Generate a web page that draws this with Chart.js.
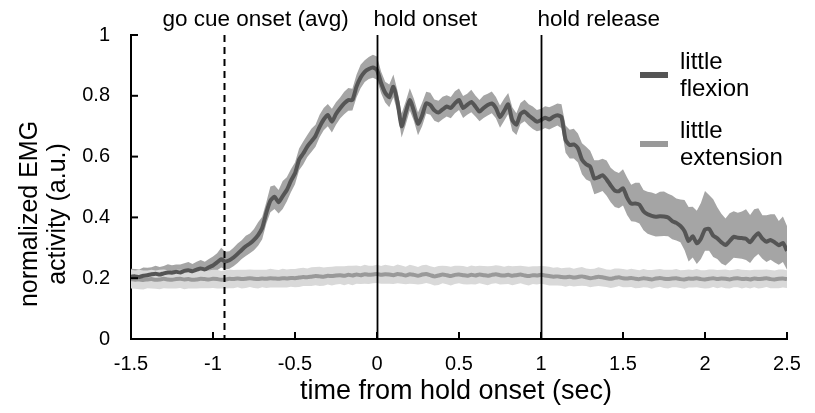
<!DOCTYPE html>
<html>
<head>
<meta charset="utf-8">
<script src="https://cdn.jsdelivr.net/npm/chart.js@4.4.1/dist/chart.umd.min.js"></script>
<style>
  html, body { margin: 0; padding: 0; background: #fff; }
  #wrap { width: 815px; height: 413px; position: relative; }
</style>
</head>
<body>
<div id="wrap"><canvas id="emg"></canvas></div>
<script>
// sample grid: -1.5 s to 2.5 s, every 25 ms
const tStart = -1.5;
const tStep = 0.025;

// little flexion, mean trace
const flexMean = [
  0.205,0.206,0.204,0.208,0.210,0.213,0.215,0.212,0.216,0.219,0.218,0.221,0.219,0.224,0.226,0.223,0.228,0.232,0.229,0.236,0.242,
  0.252,0.262,0.255,0.259,0.268,0.280,0.293,0.305,0.314,0.326,0.342,0.365,0.415,0.455,0.468,0.450,0.470,0.490,0.520,0.545,
  0.590,0.610,0.633,0.650,0.668,0.698,0.722,0.737,0.715,0.740,0.759,0.775,0.786,0.786,0.830,0.860,0.879,0.888,0.893,0.885,
  0.842,0.810,0.795,0.830,0.780,0.700,0.745,0.786,0.750,0.708,0.735,0.775,0.770,0.752,0.745,0.755,0.765,0.760,0.775,0.786,
  0.760,0.770,0.780,0.765,0.748,0.760,0.770,0.775,0.760,0.730,0.750,0.772,0.720,0.705,0.740,0.748,0.735,0.725,0.715,0.720,
  0.728,0.722,0.731,0.736,0.730,0.655,0.638,0.640,0.628,0.590,0.575,0.567,0.528,0.532,0.539,0.525,0.505,0.488,0.486,0.496,
  0.465,0.445,0.446,0.442,0.420,0.410,0.405,0.402,0.404,0.403,0.400,0.388,0.382,0.372,0.355,0.322,0.338,0.315,0.330,0.360,
  0.362,0.340,0.331,0.318,0.309,0.322,0.336,0.333,0.332,0.330,0.318,0.335,0.348,0.330,0.320,0.326,0.318,0.308,0.316,0.290
];
// band above / below flexion mean
const flexErrHi = [
  0.026,0.024,0.025,0.027,0.024,0.023,0.026,0.025,0.024,0.027,0.025,0.024,0.026,0.025,0.027,0.024,0.026,0.028,0.025,0.027,0.029,
  0.030,0.038,0.032,0.030,0.032,0.034,0.032,0.035,0.033,0.036,0.042,0.037,0.035,0.047,0.038,0.040,0.050,0.042,0.038,0.036,
  0.037,0.040,0.038,0.042,0.037,0.040,0.038,0.036,0.042,0.039,0.035,0.038,0.040,0.037,0.039,0.042,0.038,0.040,0.042,0.044,
  0.038,0.036,0.042,0.040,0.037,0.042,0.036,0.039,0.040,0.037,0.042,0.038,0.040,0.036,0.039,0.042,0.037,0.036,0.040,0.038,
  0.039,0.037,0.040,0.036,0.038,0.041,0.037,0.039,0.036,0.038,0.040,0.037,0.042,0.038,0.036,0.039,0.037,0.040,0.038,0.037,
  0.038,0.040,0.037,0.039,0.042,0.047,0.050,0.052,0.048,0.054,0.057,0.052,0.060,0.056,0.054,0.062,0.058,0.064,0.060,0.062,
  0.066,0.062,0.068,0.072,0.070,0.074,0.077,0.075,0.080,0.082,0.078,0.084,0.080,0.087,0.102,0.112,0.097,0.107,0.117,0.127,
  0.112,0.120,0.102,0.094,0.087,0.092,0.084,0.082,0.087,0.097,0.090,0.092,0.082,0.077,0.087,0.084,0.092,0.080,0.087,0.082
];
const flexErrLo = [
  0.022,0.023,0.022,0.024,0.023,0.022,0.024,0.023,0.022,0.024,0.023,0.022,0.024,0.023,0.022,0.024,0.023,0.024,0.023,0.024,0.025,
  0.026,0.027,0.026,0.028,0.029,0.030,0.030,0.032,0.032,0.034,0.035,0.037,0.036,0.038,0.040,0.037,0.042,0.038,0.037,0.036,
  0.035,0.036,0.034,0.035,0.036,0.034,0.035,0.037,0.036,0.035,0.034,0.036,0.035,0.034,0.036,0.035,0.034,0.033,0.034,0.032,
  0.034,0.032,0.033,0.035,0.034,0.037,0.040,0.034,0.033,0.038,0.035,0.033,0.032,0.034,0.033,0.032,0.033,0.034,0.032,0.033,
  0.033,0.032,0.034,0.033,0.032,0.033,0.035,0.032,0.034,0.035,0.033,0.032,0.036,0.034,0.033,0.032,0.033,0.034,0.032,0.033,
  0.034,0.033,0.035,0.034,0.037,0.042,0.044,0.046,0.047,0.048,0.050,0.049,0.052,0.051,0.052,0.054,0.055,0.054,0.056,0.057,
  0.057,0.058,0.060,0.062,0.062,0.064,0.064,0.065,0.066,0.064,0.062,0.060,0.058,0.054,0.062,0.067,0.070,0.068,0.067,0.070,
  0.072,0.070,0.068,0.070,0.067,0.068,0.069,0.067,0.068,0.070,0.068,0.067,0.068,0.066,0.067,0.065,0.066,0.064,0.063,0.062
];

// little extension, mean trace and band half-width
const extMean = [
  0.197,0.195,0.196,0.194,0.196,0.197,0.195,0.196,0.198,0.196,0.195,0.197,0.198,0.196,0.197,0.195,0.196,0.198,0.197,0.196,0.198,
  0.197,0.195,0.196,0.198,0.197,0.199,0.197,0.198,0.200,0.198,0.197,0.199,0.198,0.200,0.199,0.198,0.200,0.199,0.201,0.200,
  0.202,0.204,0.203,0.205,0.207,0.206,0.205,0.208,0.207,0.209,0.210,0.208,0.211,0.209,0.212,0.210,0.213,0.211,0.212,0.214,
  0.211,0.213,0.212,0.210,0.214,0.212,0.209,0.213,0.211,0.208,0.212,0.214,0.210,0.206,0.209,0.212,0.210,0.207,0.211,0.212,
  0.210,0.208,0.211,0.209,0.212,0.210,0.208,0.211,0.213,0.210,0.209,0.211,0.208,0.210,0.212,0.209,0.207,0.210,0.209,0.211,
  0.209,0.207,0.205,0.206,0.204,0.203,0.205,0.202,0.204,0.206,0.203,0.200,0.202,0.205,0.203,0.200,0.198,0.201,0.203,0.200,
  0.199,0.201,0.198,0.197,0.200,0.198,0.196,0.199,0.201,0.198,0.197,0.199,0.200,0.197,0.196,0.199,0.198,0.200,0.197,0.196,
  0.198,0.200,0.197,0.199,0.198,0.196,0.199,0.200,0.197,0.198,0.196,0.199,0.197,0.198,0.200,0.197,0.196,0.198,0.199,0.197
];
const extErr = [
  0.031,0.030,0.032,0.031,0.029,0.031,0.030,0.032,0.031,0.030,0.029,0.031,0.030,0.032,0.031,0.029,0.030,0.031,0.030,0.029,0.030,
  0.031,0.029,0.030,0.031,0.030,0.029,0.031,0.030,0.029,0.030,0.031,0.029,0.030,0.031,0.030,0.029,0.031,0.030,0.029,0.030,
  0.031,0.030,0.029,0.031,0.030,0.032,0.030,0.029,0.031,0.030,0.029,0.031,0.030,0.032,0.030,0.029,0.031,0.030,0.029,0.030,
  0.029,0.031,0.030,0.029,0.031,0.030,0.029,0.031,0.030,0.029,0.031,0.030,0.029,0.030,0.031,0.029,0.030,0.031,0.030,0.029,
  0.030,0.029,0.031,0.030,0.029,0.030,0.031,0.029,0.030,0.031,0.029,0.030,0.031,0.030,0.029,0.030,0.031,0.029,0.030,0.029,
  0.030,0.031,0.029,0.030,0.029,0.031,0.030,0.029,0.030,0.031,0.029,0.030,0.029,0.031,0.030,0.029,0.030,0.031,0.029,0.030,
  0.029,0.030,0.031,0.029,0.030,0.029,0.031,0.030,0.029,0.030,0.031,0.029,0.030,0.029,0.031,0.030,0.029,0.030,0.029,0.030,
  0.031,0.029,0.030,0.029,0.031,0.030,0.029,0.030,0.031,0.029,0.030,0.029,0.031,0.030,0.029,0.030,0.029,0.031,0.030,0.029
];

// event markers
const eventTimes  = [-0.93, 0, 1];
const eventLabels = ['go cue onset (avg)', 'hold onset', 'hold release'];
const eventDashed = [true, false, false];

// axis ticks
const xTicks = [-1.5, -1, -0.5, 0, 0.5, 1, 1.5, 2, 2.5];
const yTicks = [0, 0.2, 0.4, 0.6, 0.8, 1];

const seriesNames = [['little', 'flexion'], ['little', 'extension']];

const FONT = '"Liberation Sans", Arial, Helvetica, sans-serif';
const C = {
  flexLine: '#555555',
  flexBand: '#a5a5a5',
  extLine:  '#999999',
  extBand:  '#d9d9d9',
};

const times = flexMean.map((_, i) => tStart + i * tStep);
const pts = (arr) => arr.map((v, i) => ({ x: times[i], y: v }));
const ptsOff = (arr, off, sign) => arr.map((v, i) => ({ x: times[i], y: v + sign * off[i] }));

const bandBase = { pointRadius: 0, borderWidth: 0, tension: 0 };
const lineBase = { pointRadius: 0, borderWidth: 4, tension: 0.2, fill: false, borderJoinStyle: 'round' };

// ── overlay: inward ticks, event lines, legend, axis titles ─────
const overlay = {
  id: 'overlay',
  afterDraw(chart) {
    const { ctx, chartArea: a, scales: { x, y } } = chart;
    ctx.save();
    ctx.strokeStyle = '#000';
    ctx.lineWidth = 2;

    // inward tick marks
    xTicks.forEach(t => {
      const px = x.getPixelForValue(t);
      ctx.beginPath(); ctx.moveTo(px, a.bottom); ctx.lineTo(px, a.bottom - 7); ctx.stroke();
    });
    yTicks.forEach(t => {
      const py = y.getPixelForValue(t);
      ctx.beginPath(); ctx.moveTo(a.left, py); ctx.lineTo(a.left + 7, py); ctx.stroke();
    });

    // event lines + labels
    ctx.font = '22.5px ' + FONT;
    ctx.fillStyle = '#000';
    ctx.textBaseline = 'alphabetic';
    const labelShift = [-62, -4, -4];
    eventTimes.forEach((t, i) => {
      const px = Math.round(x.getPixelForValue(t)) + 0.5;
      ctx.setLineDash(eventDashed[i] ? [7, 5] : []);
      ctx.lineWidth = eventDashed[i] ? 2 : 1.8;
      ctx.beginPath(); ctx.moveTo(px, y.getPixelForValue(1)); ctx.lineTo(px, a.bottom); ctx.stroke();
      ctx.setLineDash([]);
      ctx.textAlign = 'left';
      ctx.fillText(eventLabels[i], px + labelShift[i], 26);
    });

    // legend
    const legendColors = [C.flexLine, C.extLine];
    const legendY = [75, 144];
    ctx.font = '24px ' + FONT;
    ctx.textAlign = 'left';
    ctx.textBaseline = 'middle';
    seriesNames.forEach((name, i) => {
      ctx.fillStyle = legendColors[i];
      ctx.fillRect(640, legendY[i] - 3, 28, 6);
      ctx.fillStyle = '#000';
      ctx.fillText(name[0], 680, legendY[i] - 13);
      ctx.fillText(name[1], 680, legendY[i] + 14);
    });

    // axis titles
    ctx.font = '27px ' + FONT;
    ctx.textAlign = 'center';
    ctx.textBaseline = 'middle';
    ctx.fillText('time from hold onset (sec)', (a.left + a.right) / 2 - 3, 392);
    ctx.font = '25px ' + FONT;
    ctx.translate(44, 214);
    ctx.rotate(-Math.PI / 2);
    ctx.fillText('normalized EMG', 0, -14);
    ctx.fillText('activity (a.u.)', 0, 14);
    ctx.restore();
  }
};

new Chart(document.getElementById('emg'), {
  type: 'line',
  data: {
    datasets: [
      { label: 'little flexion', data: pts(flexMean), borderColor: C.flexLine, ...lineBase },
      { label: 'little extension', data: pts(extMean), borderColor: C.extLine, ...lineBase },
      { label: 'ext hi', data: ptsOff(extMean, extErr, 1), ...bandBase, backgroundColor: C.extBand, fill: '+1' },
      { label: 'ext lo', data: ptsOff(extMean, extErr, -1), ...bandBase, fill: false },
      { label: 'flex hi', data: ptsOff(flexMean, flexErrHi, 1), ...bandBase, backgroundColor: C.flexBand, fill: '+1' },
      { label: 'flex lo', data: ptsOff(flexMean, flexErrLo, -1), ...bandBase, fill: false },
    ],
  },
  options: {
    responsive: true,
    maintainAspectRatio: false,
    animation: false,
    layout: { padding: { left: 0, right: 28, top: 35, bottom: 0 } },
    plugins: {
      legend: { display: false },
      tooltip: { enabled: false },
    },
    scales: {
      x: {
        type: 'linear',
        min: -1.5,
        max: 2.5,
        afterBuildTicks: s => { s.ticks = xTicks.map(v => ({ value: v })); },
        afterFit: s => { s.height = 74; },
        grid: { display: false },
        border: { display: true, color: '#000', width: 2 },
        ticks: {
          padding: 5,
          color: '#000',
          font: { family: FONT, size: 20 },
          callback: v => String(v),
          maxRotation: 0,
        },
      },
      y: {
        min: 0,
        max: 1,
        afterBuildTicks: s => { s.ticks = yTicks.map(v => ({ value: v })); },
        afterFit: s => { s.width = 131; },
        grid: { display: false },
        border: { display: true, color: '#000', width: 2 },
        ticks: {
          padding: 13,
          color: '#000',
          font: { family: FONT, size: 20 },
          callback: v => String(v),
        },
      },
    },
  },
  plugins: [overlay],
});
</script>
</body>
</html>
